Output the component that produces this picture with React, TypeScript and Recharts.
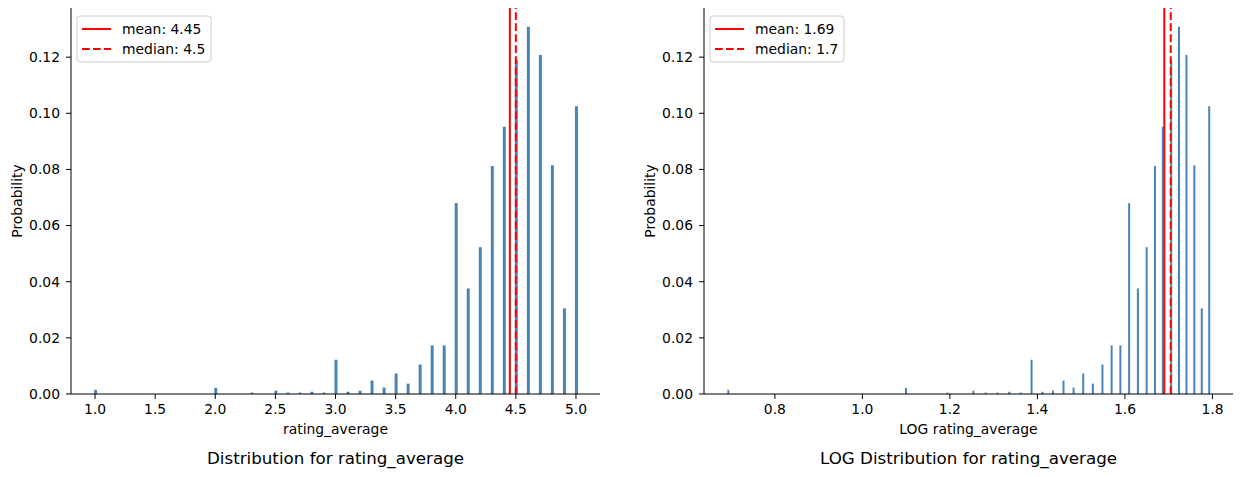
import { ComposedChart, Bar, XAxis, YAxis, ReferenceLine } from 'recharts';

// bin positions (rating_average)
const ratingBins = [
  1.0, 2.0, 2.3, 2.5, 2.6, 2.7, 2.8, 2.9, 3.0, 3.1, 3.2, 3.3, 3.4, 3.5, 3.6,
  3.7, 3.8, 3.9, 4.0, 4.1, 4.2, 4.3, 4.4, 4.5, 4.6, 4.7, 4.8, 4.9, 5.0,
];

// same bins on the LOG panel
const logRatingBins = [
  0.693, 1.099, 1.194, 1.253, 1.281, 1.308, 1.335, 1.361, 1.386, 1.411, 1.435,
  1.459, 1.482, 1.504, 1.526, 1.548, 1.569, 1.589, 1.609, 1.629, 1.649, 1.668,
  1.686, 1.705, 1.723, 1.74, 1.758, 1.775, 1.792,
];

const probabilities = [
  0.0015, 0.0022, 0.0005, 0.0012, 0.0005, 0.0005, 0.0008, 0.0005, 0.0122,
  0.0008, 0.0012, 0.0048, 0.0023, 0.0073, 0.0037, 0.0105, 0.0173, 0.0173,
  0.068, 0.0376, 0.0523, 0.0812, 0.0952, 0.1189, 0.1308, 0.1208, 0.0815,
  0.0305, 0.1025,
];

const ratingTicks = [1.0, 1.5, 2.0, 2.5, 3.0, 3.5, 4.0, 4.5, 5.0];
const logTicks = [0.8, 1.0, 1.2, 1.4, 1.6, 1.8];
const probTicks = [0, 0.02, 0.04, 0.06, 0.08, 0.1, 0.12];

const ratingStats = [4.45, 4.5]; // mean, median
const logStats = [1.69, 1.7047];
const logStatLabels = ['1.69', '1.7'];
const ratingStatLabels = ['4.45', '4.5'];

const FONT = '"DejaVu Sans", sans-serif';
const BAR_COLOR = '#4a84b6';
const RED = '#ff0000';
const DASH = '7.7 3.3';

interface PanelProps {
  left: number;
  width: number;
  marginLeft: number;
  marginRight: number;
  bins: number[];
  domain: [number, number];
  ticks: number[];
  barSize: number;
  stats: number[];
  statLabels: string[];
  xLabel: string;
  title: string;
}

function Panel(p: PanelProps) {
  const data = p.bins.map((x, i) => ({ x, p: probabilities[i] }));

  const yLabel = (props: any) => {
    const vb = props.viewBox;
    const cx = vb.x + 6;
    const cy = vb.y + vb.height / 2;
    return (
      <text
        x={cx}
        y={cy}
        transform={`rotate(-90, ${cx}, ${cy})`}
        textAnchor="middle"
        dominantBaseline="central"
        fontSize={13.9}
        fontFamily={FONT}
        fill="#000"
      >
        Probability
      </text>
    );
  };

  const xLabel = (props: any) => {
    const vb = props.viewBox;
    const cx = vb.x + vb.width / 2;
    return (
      <g>
        <text x={cx} y={vb.y + 40} textAnchor="middle" fontSize={13.9} fontFamily={FONT} fill="#000">
          {p.xLabel}
        </text>
        <text x={cx} y={vb.y + 69.5} textAnchor="middle" fontSize={16.7} fontFamily={FONT} fill="#000">
          {p.title}
        </text>
      </g>
    );
  };

  return (
    <div style={{ position: 'absolute', left: p.left, top: 0, width: p.width, height: 477 }}>
      <ComposedChart
        width={p.width}
        height={477}
        data={data}
        margin={{ top: 8, right: p.marginRight, bottom: 33, left: p.marginLeft }}
      >
        <XAxis
          type="number"
          dataKey="x"
          domain={p.domain}
          ticks={p.ticks}
          interval={0}
          allowDataOverflow
          tickFormatter={(v: number) => v.toFixed(1)}
          height={50}
          stroke="#000"
          tickSize={5}
          tickMargin={5}
          tick={{ fill: '#000', fontSize: 13.9, fontFamily: FONT }}
          label={{ content: xLabel }}
        />
        <YAxis
          type="number"
          domain={[0, 0.1375]}
          ticks={probTicks}
          interval={0}
          allowDataOverflow
          tickFormatter={(v: number) => v.toFixed(2)}
          width={60}
          stroke="#000"
          tickSize={5}
          tickMargin={6}
          tick={{ fill: '#000', fontSize: 13.9, fontFamily: FONT }}
          label={{ content: yLabel }}
        />
        <Bar dataKey="p" fill={BAR_COLOR} barSize={p.barSize} isAnimationActive={false} />
        <ReferenceLine x={p.stats[0]} stroke={RED} strokeWidth={2} />
        <ReferenceLine x={p.stats[1]} stroke={RED} strokeWidth={2} strokeDasharray={DASH} />
      </ComposedChart>
      <svg
        width={136}
        height={48}
        style={{ position: 'absolute', left: p.marginLeft + 66 - 1, top: 15 }}
      >
        <rect x={1} y={1} width={134} height={46} rx={3} fill="rgba(255,255,255,0.8)" stroke="#cccccc" />
        <line x1={6} x2={35} y1={14} y2={14} stroke={RED} strokeWidth={2} />
        <line x1={6} x2={35} y1={34} y2={34} stroke={RED} strokeWidth={2} strokeDasharray={DASH} />
        <text x={46} y={19} fontSize={13.9} fontFamily={FONT} fill="#000">
          {'mean: ' + p.statLabels[0]}
        </text>
        <text x={46} y={39} fontSize={13.9} fontFamily={FONT} fill="#000">
          {'median: ' + p.statLabels[1]}
        </text>
      </svg>
    </div>
  );
}

export default function App() {
  return (
    <div
      style={{
        position: 'absolute',
        left: 0,
        top: 0,
        width: 1242,
        height: 477,
        background: '#fff',
        overflow: 'hidden',
      }}
    >
      <Panel
        left={0}
        width={620}
        marginLeft={11}
        marginRight={20}
        bins={ratingBins}
        domain={[0.8, 5.2]}
        ticks={ratingTicks}
        barSize={3}
        stats={ratingStats}
        statLabels={ratingStatLabels}
        xLabel="rating_average"
        title="Distribution for rating_average"
      />
      <Panel
        left={620}
        width={622}
        marginLeft={24}
        marginRight={9}
        bins={logRatingBins}
        domain={[0.638, 1.847]}
        ticks={logTicks}
        barSize={2}
        stats={logStats}
        statLabels={logStatLabels}
        xLabel="LOG rating_average"
        title="LOG Distribution for rating_average"
      />
    </div>
  );
}
